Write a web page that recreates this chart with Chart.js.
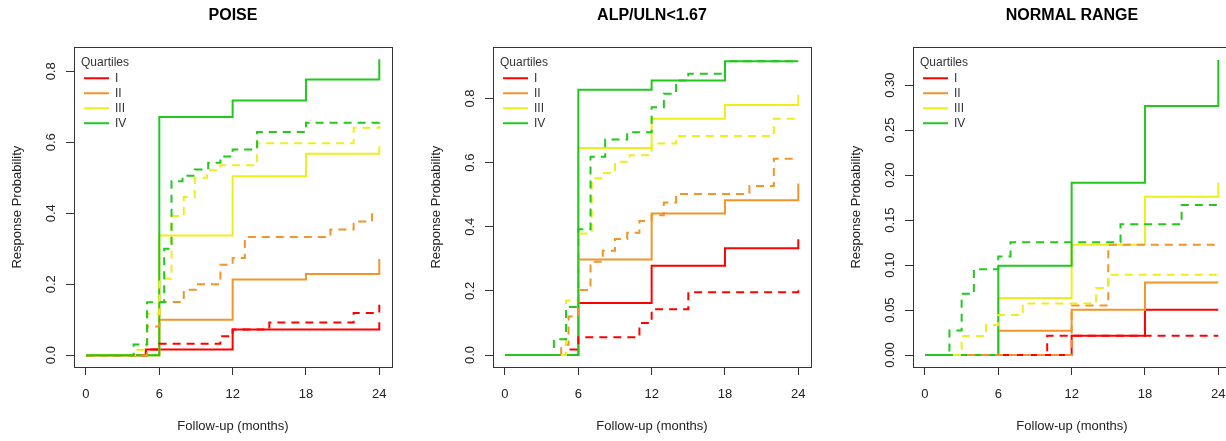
<!DOCTYPE html>
<html>
<head>
<meta charset="utf-8">
<script src="https://cdn.jsdelivr.net/npm/chart.js@4"></script>
<style>
  body { margin: 0; background: #fff; overflow: hidden; width: 1226px; height: 441px; position: relative; }
  canvas { position: absolute; top: 0; }
</style>
</head>
<body>
<canvas id="poise" width="420" height="441" style="left:0px"></canvas>
<canvas id="alp" width="420" height="441" style="left:419px"></canvas>
<canvas id="normal" width="420" height="441" style="left:839px"></canvas>
<script>
// quartile labels / colours
const quartiles = ['I', 'II', 'III', 'IV'];
const colors = ['#ff0000', '#f0952a', '#eeee1c', '#22c81c'];

// tick labels
const monthTicks = [0, 6, 12, 18, 24];
const probTicks = [0, 0.2, 0.4, 0.6, 0.8];
const normalTicks = [0, 0.05, 0.1, 0.15, 0.2, 0.25, 0.3];

// [month, probability] step points, solid and dashed curves per quartile
// POISE
const poiseI = [[0, 0], [4.9, 0.016], [12, 0.072], [24, 0.093]];
const poiseII = [[0, 0], [6, 0.1], [12, 0.213], [18, 0.229], [24, 0.271]];
const poiseIII = [[0, 0], [6, 0.337], [12, 0.504], [18, 0.568], [24, 0.589]];
const poiseIV = [[0, 0], [6, 0.671], [12, 0.718], [18, 0.777], [24, 0.834]];
const poiseIdash = [[0, 0], [4.9, 0.016], [6, 0.032], [11, 0.053], [12, 0.072], [15, 0.092], [21.9, 0.119], [24, 0.142]];
const poiseIIdash = [[0, 0], [5, 0.081], [6, 0.15], [8, 0.184], [9, 0.2], [11, 0.255], [12, 0.274], [13, 0.333], [20, 0.354], [21.9, 0.377], [23.4, 0.403]];
const poiseIIIdash = [[0, 0], [4.2, 0.015], [5, 0.117], [6, 0.215], [7, 0.392], [8, 0.446], [8.9, 0.5], [9.9, 0.521], [11, 0.535], [14, 0.597], [21.9, 0.641], [24, 0.646]];
const poiseIVdash = [[0, 0], [3.9, 0.03], [5, 0.149], [6.4, 0.3], [7, 0.49], [7.9, 0.506], [8.9, 0.523], [10, 0.542], [11, 0.56], [12, 0.58], [14, 0.629], [18, 0.655], [24, 0.664]];

// ALP/ULN<1.67
const alpI = [[0, 0], [6, 0.162], [12, 0.278], [18, 0.333], [24, 0.361]];
const alpII = [[0, 0], [6, 0.298], [12, 0.441], [18, 0.483], [24, 0.535]];
const alpIII = [[0, 0], [6, 0.646], [12, 0.737], [18, 0.78], [24, 0.812]];
const alpIV = [[0, 0], [6, 0.827], [12, 0.856], [18, 0.916], [24, 0.916]];
const alpIdash = [[0, 0], [5, 0.017], [6, 0.055], [11, 0.1], [12, 0.143], [15, 0.196], [24, 0.211]];
const alpIIdash = [[0, 0], [4.6, 0.032], [5.2, 0.12], [6, 0.203], [7, 0.291], [8, 0.325], [9, 0.362], [10, 0.381], [11, 0.418], [12, 0.436], [13, 0.476], [14, 0.502], [20, 0.527], [22, 0.612], [24, 0.612]];
const alpIIIdash = [[0, 0], [5, 0.17], [6, 0.379], [7.1, 0.551], [8.1, 0.568], [9, 0.603], [10.2, 0.623], [12, 0.66], [14, 0.683], [22, 0.737], [24, 0.737]];
const alpIVdash = [[0, 0], [4, 0.049], [5, 0.15], [6, 0.392], [7, 0.618], [8.2, 0.672], [10, 0.695], [12, 0.773], [13, 0.815], [14, 0.856], [15, 0.877], [18, 0.916], [24, 0.916]];

// NORMAL RANGE
const nrI = [[0, 0], [12, 0.0215], [18, 0.0503], [24, 0.0503]];
const nrII = [[0, 0], [6, 0.027], [12, 0.0503], [18, 0.0807], [24, 0.0807]];
const nrIII = [[0, 0], [6, 0.0633], [12, 0.1225], [18, 0.176], [24, 0.1916]];
const nrIV = [[0, 0], [6, 0.0992], [12, 0.1916], [18, 0.2767], [24, 0.328]];
const nrIdash = [[0, 0], [10, 0.0215], [24, 0.0215]];
const nrIIdash = [[0, 0], [12, 0.055], [15, 0.1225], [24, 0.1225]];
const nrIIIdash = [[0, 0], [3, 0.0211], [5, 0.0333], [6, 0.0444], [8, 0.0574], [14, 0.0744], [15, 0.0892], [24, 0.0892]];
const nrIVdash = [[0, 0], [2, 0.0274], [3, 0.068], [4, 0.0955], [6, 0.1095], [7, 0.1254], [16, 0.1454], [21, 0.1669], [24, 0.1669]];

const family = '"Liberation Sans", Arial, Helvetica, sans-serif';
const textColor = '#222';

// R style box round the plot region
const boxPlugin = {
  id: 'box',
  beforeDatasetsDraw(chart) {
    const a = chart.chartArea, ctx = chart.ctx;
    ctx.save();
    ctx.strokeStyle = '#333';
    ctx.lineWidth = 1;
    ctx.strokeRect(Math.round(a.left) + 0.5, Math.round(a.top) + 0.5, Math.round(a.width), Math.round(a.height));
    ctx.restore();
  }
};

// put the legend inside the plot box, a little off the top-left corner
const legendNudge = {
  id: 'legendNudge',
  afterLayout(chart) {
    const a = chart.chartArea;
    chart.legend.left = a.left + 7;
    chart.legend.right = a.right;
    chart.legend.top = a.top;
    chart.legend.bottom = a.bottom;
  }
};

function buildSets(solid, dashed) {
  const sets = [];
  solid.forEach((s, i) => sets.push({
    label: quartiles[i],
    data: s.map(p => ({x: p[0], y: p[1]})),
    borderColor: colors[i],
    borderWidth: 2,
    stepped: 'before',
    pointRadius: 0,
    fill: false,
    order: 7 - i
  }));
  dashed.forEach((s, i) => sets.push({
    label: quartiles[i] + ' (dashed)',
    data: s.map(p => ({x: p[0], y: p[1]})),
    borderColor: colors[i],
    borderWidth: 2,
    borderDash: [8, 6],
    stepped: 'before',
    pointRadius: 0,
    fill: false,
    order: 3 - i
  }));
  return sets;
}

function makePanel(id, title, solid, dashed, yTicks, yMin, yMax, digits, yPad) {
  new Chart(document.getElementById(id), {
    type: 'line',
    data: { datasets: buildSets(solid, dashed) },
    options: {
      responsive: false,
      animation: false,
      devicePixelRatio: 1,
      layout: { padding: { left: 0, right: 28, top: 0, bottom: 0 } },
      plugins: {
        title: {
          display: true, text: title, fullSize: false, color: '#000',
          font: { family: family, size: 16, weight: 'bold' },
          padding: { top: 6, bottom: 22 }
        },
        legend: {
          position: 'chartArea',
          align: 'start',
          title: {
            display: true, text: 'Quartiles', position: 'start', color: '#333',
            font: { family: family, size: 12, lineHeight: 1 },
            padding: { top: 9, bottom: 1 }
          },
          labels: {
            filter: item => item.datasetIndex < 4,
            sort: (a, b) => a.datasetIndex - b.datasetIndex,
            usePointStyle: true,
            pointStyle: 'line',
            pointStyleWidth: 25,
            padding: 3,
            color: '#333',
            font: { family: family, size: 12 }
          }
        },
        tooltip: { enabled: false }
      },
      scales: {
        x: {
          type: 'linear', min: -0.98, max: 25.04,
          afterBuildTicks: s => { s.ticks = monthTicks.map(v => ({value: v})); },
          afterFit: s => { s.height = 74; },
          grid: { drawOnChartArea: false, tickLength: 8, color: '#333' },
          border: { display: false },
          ticks: { font: { family: family, size: 13 }, color: textColor, padding: 12, maxRotation: 0, callback: v => String(v) },
          title: { display: true, text: 'Follow-up (months)', color: textColor, font: { family: family, size: 13 }, padding: { top: 0, bottom: 7 } }
        },
        y: {
          type: 'linear', min: yMin, max: yMax,
          afterBuildTicks: s => { s.ticks = yTicks.map(v => ({value: v})); },
          afterFit: s => { s.width = 74; },
          grid: { drawOnChartArea: false, tickLength: 8, color: '#333' },
          border: { display: false },
          ticks: { font: { family: family, size: 13 }, color: textColor, padding: yPad, minRotation: 90, maxRotation: 90, crossAlign: 'center', callback: v => v.toFixed(digits) },
          title: { display: true, text: 'Response Probability', color: textColor, font: { family: family, size: 13 }, padding: { top: 10, bottom: 0 } }
        }
      }
    },
    plugins: [boxPlugin, legendNudge]
  });
}

makePanel('poise', 'POISE', [poiseI, poiseII, poiseIII, poiseIV], [poiseIdash, poiseIIdash, poiseIIIdash, poiseIVdash], probTicks, -0.0334, 0.868, 1, 5.7);
makePanel('alp', 'ALP/ULN<1.67', [alpI, alpII, alpIII, alpIV], [alpIdash, alpIIdash, alpIIIdash, alpIVdash], probTicks, -0.0374, 0.960, 1, 5.7);
makePanel('normal', 'NORMAL RANGE', [nrI, nrII, nrIII, nrIV], [nrIdash, nrIIdash, nrIIIdash, nrIVdash], normalTicks, -0.0133, 0.3422, 2, 2);
</script>
</body>
</html>
